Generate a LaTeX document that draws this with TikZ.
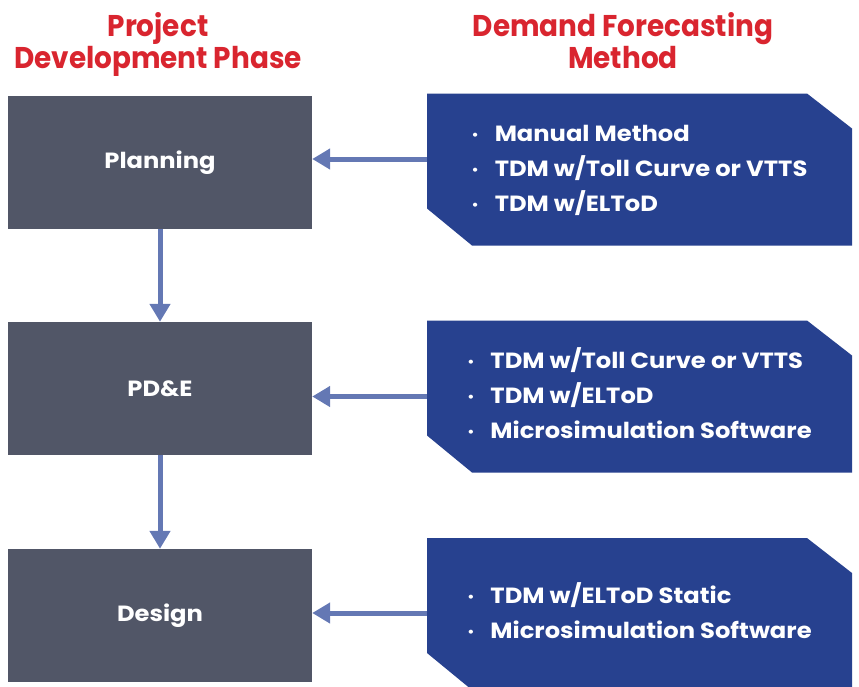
\documentclass[tikz,border=0pt]{standalone}
\usepackage{fontspec}
\setmainfont{Poppins}[FakeStretch=1.1]
\newfontfamily\headfont{Poppins}[FakeStretch=0.93]
\usetikzlibrary{arrows.meta}
\definecolor{phasegray}{HTML}{515667}
\definecolor{methodblue}{HTML}{27418F}
\definecolor{linkblue}{HTML}{6478B4}
\definecolor{headred}{HTML}{D9252F}
\newcommand\mbul{\raisebox{2pt}{\fontsize{13}{13}\selectfont\textbullet}}
\begin{document}
\begin{tikzpicture}[x=1pt, y=-1pt,
        phase/.style={fill=phasegray, text=white, minimum width=304pt, minimum height=133pt,
            inner sep=0pt, font=\bfseries\fontsize{22}{26}\selectfont},
        method/.style={minimum width=425pt, minimum height=152pt, inner sep=0pt, text=white,
            font=\bfseries\fontsize{22}{35}\selectfont,
            path picture={\fill[methodblue]
                ([xshift=-45pt]path picture bounding box.north east)
                -- ([yshift=-35pt]path picture bounding box.north east)
                -- (path picture bounding box.south east)
                -- ([xshift=45pt]path picture bounding box.south west)
                -- ([yshift=37pt]path picture bounding box.south west)
                -- (path picture bounding box.north west) -- cycle;}},
        heading/.style={text=headred, align=center, font=\headfont\bfseries\fontsize{30}{32}\selectfont},
        link/.style={draw=linkblue, line width=5pt, -{Triangle[length=18pt, width=20pt]}},
    ]
    \useasboundingbox (0,0) rectangle (859,686);
    % column titles
    \node[heading](phasehead) at (158,44) {Project\\Development Phase};
    \node[heading](methodhead) at (623,41) {Demand Forecasting\\Method};
    % project phases
    \node[phase](planning) at (160,162.5) {Planning};
    \node[phase](pde) at (160,388.5) {PD\&E};
    \node[phase](design) at (160,615.5) {Design};
    % forecasting methods
    \node[method](plmethods) at (639.5,169.5) {\begin{tabular}{@{}c@{\hspace{16pt}}l@{}}
        \mbul & Manual Method\\
        \mbul & TDM w/Toll Curve or VTTS\\
        \mbul & TDM w/ELToD
    \end{tabular}};
    \node[method](pdmethods) at (639.5,396.5) {\begin{tabular}{@{}c@{\hspace{16pt}}l@{}}
        \mbul & TDM w/Toll Curve or VTTS\\
        \mbul & TDM w/ELToD\\
        \mbul & Microsimulation Software
    \end{tabular}};
    \node[method](dsmethods) at (639.5,614) {\begin{tabular}{@{}c@{\hspace{16pt}}l@{}}
        \mbul & TDM w/ELToD Static\\
        \mbul & Microsimulation Software
    \end{tabular}};
    % links
    \draw[link] ([yshift=10.5pt]plmethods.west) -- ([yshift=10.5pt]plmethods.west -| planning.east);
    \draw[link] (pdmethods.west) -- (pdmethods.west -| pde.east);
    \draw[link] ([yshift=1pt]dsmethods.west) -- ([yshift=1pt]dsmethods.west -| design.east);
    \draw[link] (planning.south) -- (pde.north);
    \draw[link] (pde.south) -- (design.north);
\end{tikzpicture}
\end{document}
